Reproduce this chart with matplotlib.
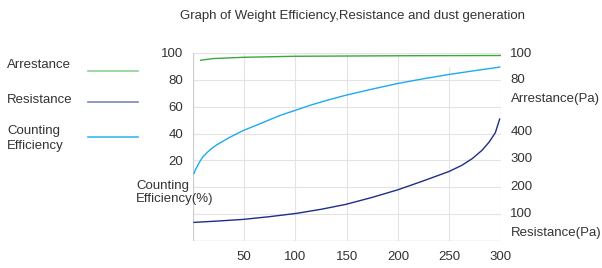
import matplotlib.pyplot as plt
from matplotlib.lines import Line2D

plt.rcParams['font.family'] = ['Liberation Sans', 'DejaVu Sans']

# Values
ce_x = [1.3, 2.5, 3.9, 5.5, 7.1, 10, 13.7, 18, 23.4, 30, 36.4, 49.4, 65.7, 85.3, 99.9,
        114.5, 130, 149, 175, 200, 225, 250, 275, 299]
ce_y = [10.4, 12.9, 14.9, 17.2, 19.4, 22.8, 25.7, 28.6, 31.6, 34.5, 37.3, 42.3, 47.3, 53.5, 57.2,
        61.0, 64.5, 68.4, 73.0, 77.2, 80.7, 83.9, 86.7, 89.3]

res_x = [1.3, 25, 49.4, 75, 100.9, 125, 149, 175, 200, 223.5, 249.6, 262.3, 272.5, 281.8, 288.7, 294.8, 299]
res_y = [63, 68, 74, 84, 96, 111, 129, 155, 183, 214, 250, 273, 298, 328, 358, 393, 443]

arr_x = [7.8, 20, 50, 100, 150, 200, 250, 300]
arr_y = [94.1, 95.4, 96.4, 97.2, 97.4, 97.6, 97.7, 97.8]

x_ticks = [50, 100, 150, 200, 250, 300]
left_ticks = [-40, -20, 0, 20, 40, 60, 80, 100]
res_ticks = [100, 200, 300, 400]
arr_ticks = [80, 100]

W, H = 602, 268
fig = plt.figure(figsize=(W / 100, H / 100), dpi=100)
ax = fig.add_axes([192.7 / W, 1 - 241.3 / H, 308 / W, 188.6 / H])

txt = '#333333'
grid = '#e3e3e3'
fs = 9.5

ax.set_xlim(0, 300)
ax.set_ylim(-40, 100)
ax.set_xticks(x_ticks)
ax.set_yticks(left_ticks)
ax.set_yticklabels([str(v) if v > 0 else '' for v in left_ticks])
ax.tick_params(length=0, labelsize=fs, labelcolor=txt)
ax.tick_params(axis='x', pad=7)
ax.tick_params(axis='y', pad=7)
ax.grid(axis='y', color=grid, lw=0.8)
for v in x_ticks[:4]:
    ax.axvline(v, color=grid, lw=0.8)
for v in x_ticks[4:]:
    ax.axvline(v, ymax=0.926, color=grid, lw=0.8)
for s in ax.spines.values():
    s.set_visible(False)
ax.axvline(0, color='#cccccc', lw=0.9)
ax.axhline(-40, color='#cccccc', lw=0.9)
ax.plot(ce_x, ce_y, color='#1eaaf0', lw=1.0)

ax_r = ax.twinx()
ax_r.set_ylim(-6.6, 686.8)
ax_r.set_yticks(res_ticks)
ax_r.plot(res_x, res_y, color='#1f2e86', lw=1.0)

ax_a = ax.twinx()
ax_a.set_ylim(-48, 100)
ax_a.set_yticks(arr_ticks)
ax_a.plot(arr_x, arr_y, color='#3aa83a', lw=1.0)

for a in (ax_r, ax_a):
    a.set_xlim(0, 300)
    a.tick_params(length=0, labelsize=fs, labelcolor=txt, pad=7)
    for s in a.spines.values():
        s.set_visible(False)

def ftext(x, y, s, **kw):
    fig.text(x / W, 1 - y / H, s, fontsize=fs, color=txt, va='center', **kw)

fig.text(353 / W, 1 - 16 / H, 'Graph of Weight Efficiency,Resistance and dust generation',
         fontsize=fs, color=txt, ha='center', va='center')
ftext(511, 99, 'Arrestance(Pa)')
ftext(511, 233.3, 'Resistance(Pa)')
ftext(136, 192.5, 'Counting\nEfficiency(%)', linespacing=1.15)

# legend at left
ftext(7, 65, 'Arrestance')
ftext(7, 100, 'Resistance')
ftext(7, 138.5, 'Counting\nEfficiency', linespacing=1.3)
for y, c in [(70.7, '#8fd18f'), (101.7, '#7b86b8'), (136.7, '#3cb8ef')]:
    fig.add_artist(Line2D([88 / W, 138 / W], [1 - y / H, 1 - y / H], color=c, lw=1.2))

fig.savefig('out.png', dpi=100)
